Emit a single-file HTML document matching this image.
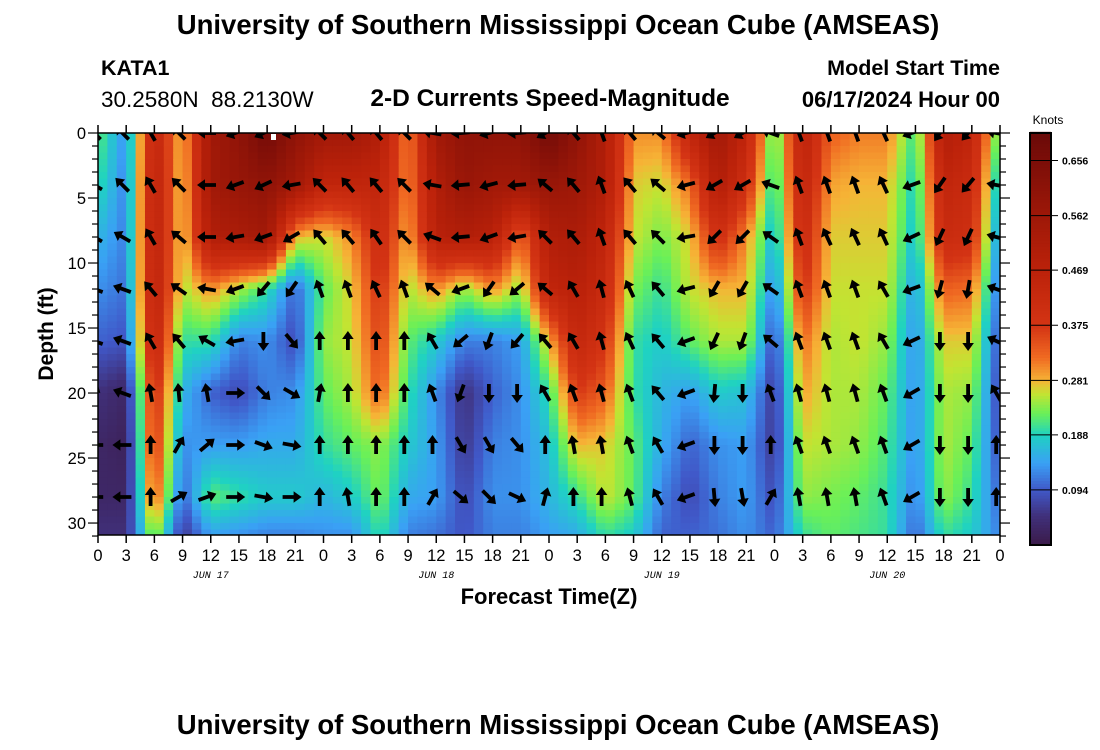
<!DOCTYPE html>
<html><head><meta charset="utf-8"><style>
body{margin:0;background:#fff;}
svg{display:block;font-family:"Liberation Sans",sans-serif;}
</style></head><body>
<svg id="chart" width="1100" height="750" viewBox="0 0 1100 750" xmlns="http://www.w3.org/2000/svg">
<text x="558" y="34" text-anchor="middle" font-size="27.5" font-weight="bold">University of Southern Mississippi Ocean Cube (AMSEAS)</text>
<text x="101" y="75" font-size="21.5" font-weight="bold">KATA1</text>
<text x="101" y="107" font-size="22.5">30.2580N&#160;&#160;88.2130W</text>
<text x="550" y="106" text-anchor="middle" font-size="24.5" font-weight="bold">2-D Currents Speed-Magnitude</text>
<text x="1000" y="75" text-anchor="end" font-size="21.5" font-weight="bold">Model Start Time</text>
<text x="1000" y="107" text-anchor="end" font-size="22" font-weight="bold">06/17/2024 Hour 00</text>
<defs><clipPath id="plotclip"><rect x="98" y="133" width="902" height="402"/></clipPath></defs>
<g id="heat" clip-path="url(#plotclip)"></g>
<g id="arrows" clip-path="url(#plotclip)"></g>
<rect x="271" y="134" width="5" height="6" fill="#fff"/>
<rect x="98" y="133" width="902" height="402" fill="none" stroke="#000" stroke-width="1.5"/>
<g id="axes"></g>
<text transform="translate(53,334) rotate(-90)" text-anchor="middle" font-size="21" font-weight="bold">Depth (ft)</text>
<text x="549" y="604" text-anchor="middle" font-size="22" font-weight="bold">Forecast Time(Z)</text>
<g id="cbar"></g>
<text x="1048" y="124" text-anchor="middle" font-size="12">Knots</text>
<text x="558" y="734" text-anchor="middle" font-size="27.5" font-weight="bold">University of Southern Mississippi Ocean Cube (AMSEAS)</text>
</svg>
<script>
const times = [0,3,6,9,12,15,18,21,24,27,30,33,36,39,42,45,48,51,54,57,60,63,66,69,72,75,78,81,84,87,90,93,96];
const depths = [0,4,8,12,16,20,24,28,31];
const speed = [
[0.22,0.20,0.16,0.13,0.10,0.05,0.03,0.03,0.05],
[0.13,0.12,0.12,0.11,0.09,0.03,0.02,0.03,0.05],
[0.45,0.47,0.47,0.47,0.45,0.40,0.38,0.34,0.25],
[0.27,0.26,0.26,0.25,0.20,0.16,0.13,0.10,0.06],
[0.55,0.55,0.50,0.30,0.20,0.10,0.14,0.22,0.14],
[0.60,0.58,0.52,0.25,0.12,0.08,0.14,0.20,0.13],
[0.68,0.60,0.55,0.20,0.13,0.12,0.15,0.18,0.12],
[0.60,0.55,0.28,0.10,0.08,0.13,0.15,0.18,0.12],
[0.55,0.45,0.26,0.22,0.24,0.22,0.20,0.16,0.13],
[0.55,0.45,0.30,0.27,0.26,0.25,0.22,0.18,0.13],
[0.50,0.45,0.42,0.38,0.36,0.33,0.24,0.23,0.20],
[0.30,0.30,0.28,0.25,0.22,0.20,0.18,0.15,0.12],
[0.55,0.50,0.48,0.30,0.18,0.13,0.14,0.14,0.11],
[0.60,0.58,0.50,0.24,0.12,0.05,0.06,0.08,0.09],
[0.60,0.55,0.48,0.30,0.12,0.10,0.12,0.13,0.12],
[0.60,0.55,0.32,0.24,0.14,0.13,0.13,0.13,0.12],
[0.68,0.58,0.50,0.45,0.28,0.20,0.17,0.16,0.14],
[0.60,0.56,0.52,0.48,0.44,0.37,0.28,0.20,0.15],
[0.50,0.50,0.45,0.42,0.38,0.33,0.27,0.26,0.20],
[0.30,0.27,0.26,0.23,0.20,0.20,0.22,0.22,0.18],
[0.30,0.26,0.23,0.20,0.18,0.16,0.15,0.12,0.10],
[0.45,0.32,0.27,0.26,0.22,0.14,0.10,0.08,0.10],
[0.55,0.50,0.40,0.28,0.25,0.18,0.13,0.12,0.11],
[0.45,0.40,0.30,0.28,0.25,0.17,0.14,0.14,0.13],
[0.20,0.18,0.16,0.12,0.08,0.06,0.06,0.08,0.10],
[0.47,0.45,0.42,0.38,0.32,0.29,0.26,0.24,0.20],
[0.33,0.29,0.27,0.26,0.25,0.25,0.25,0.23,0.22],
[0.31,0.28,0.27,0.26,0.26,0.25,0.24,0.22,0.21],
[0.31,0.28,0.27,0.26,0.24,0.22,0.21,0.20,0.20],
[0.20,0.18,0.17,0.14,0.13,0.13,0.13,0.12,0.10],
[0.50,0.45,0.42,0.33,0.27,0.25,0.25,0.24,0.20],
[0.45,0.42,0.40,0.32,0.27,0.24,0.22,0.20,0.18],
[0.20,0.15,0.12,0.10,0.08,0.07,0.08,0.10,0.12]];
const arrowTimes = [-0.4,2.6,5.6,8.6,11.6,14.6,17.6,20.6,23.6,26.6,29.6,32.6,35.6,38.6,41.6,44.6,47.6,50.6,53.6,56.6,59.6,62.6,65.6,68.6,71.6,74.6,77.6,80.6,83.6,86.6,89.6,92.6,95.6];
const arrowDepths = [0,4,8,12,16,20,24,28];
const dirs = [
[315,315,330,315,270,250,245,260,315,320,320,315,280,265,255,265,240,320,340,320,310,255,240,240,290,340,340,340,335,250,215,220,280],
[300,315,330,315,270,250,245,260,315,320,320,315,280,265,255,265,310,320,340,320,310,255,240,240,290,340,340,340,335,250,215,220,280],
[300,300,330,310,270,260,250,240,320,320,325,315,290,265,250,260,315,320,340,320,315,260,225,225,305,340,335,335,335,245,205,205,285],
[290,290,320,305,280,250,220,215,340,340,335,340,310,250,215,230,310,330,345,335,320,255,210,210,305,340,340,340,330,250,195,190,290],
[290,290,330,320,300,260,180,140,0,0,0,0,330,230,200,220,320,330,345,335,320,250,205,200,310,340,340,340,330,245,180,180,295],
[20,290,350,355,350,90,135,120,10,0,0,0,340,200,180,180,330,340,345,340,320,250,185,180,340,345,345,345,340,240,180,180,330],
[270,270,0,30,50,90,110,100,0,0,0,0,0,150,150,140,0,350,350,340,330,250,180,180,0,340,340,340,340,240,180,180,0],
[270,270,0,60,70,90,100,90,0,350,0,0,30,130,135,115,15,0,0,345,330,250,175,170,30,350,350,350,340,240,180,180,0]];
const cbTicks = [0.094,0.188,0.281,0.375,0.469,0.562,0.656];
const xTickLabels = ['0','3','6','9','12','15','18','21'];
const dayLabels = ['JUN 17','JUN 18','JUN 19','JUN 20'];

const NS='http://www.w3.org/2000/svg';
const X0=98,X1=1000,Y0=133,Y1=535,TMAX=96,DMAX=30.92;
const xs=t=>X0+(X1-X0)*t/TMAX;
const ys=d=>Y0+(Y1-Y0)*d/DMAX;
const VMAX=0.703,CB0=545,CB1=133;
const cs=v=>CB0-(CB0-CB1)*v/VMAX;
const stops=[[0,'#3b1a48'],[0.05,'#40307a'],[0.094,'#4058c8'],[0.14,'#3aa0f5'],[0.188,'#1fd2c2'],[0.225,'#6af058'],[0.258,'#c2e432'],[0.281,'#f6b436'],[0.32,'#f06a22'],[0.375,'#d43414'],[0.469,'#bc220a'],[0.562,'#9e1808'],[0.656,'#7c0e08'],[0.703,'#6a0a08']];
function hex(h){return [1,3,5].map(i=>parseInt(h.substr(i,2),16));}
function color(v){v=Math.max(0,Math.min(VMAX,v));for(let i=1;i<stops.length;i++){if(v<=stops[i][0]){const a=stops[i-1],b=stops[i];const f=(v-a[0])/(b[0]-a[0]);const ca=hex(a[1]),cb=hex(b[1]);return 'rgb('+ca.map((c,k)=>Math.round(c+(cb[k]-c)*f)).join(',')+')';}}return stops[stops.length-1][1];}
function mk(tag,attrs,parent){const e=document.createElementNS(NS,tag);for(const k in attrs)e.setAttribute(k,attrs[k]);parent.appendChild(e);return e;}
function seg(arr,v){for(let i=0;i<arr.length-1;i++){if(v<=arr[i+1])return [i,(v-arr[i])/(arr[i+1]-arr[i])];}return [arr.length-2,1];}
function sample(t,d){const [i,fi]=seg(times,t);const [j,fj]=seg(depths,Math.min(d,31));const a=speed[i][j]*(1-fj)+speed[i][j+1]*fj;const b=speed[i+1][j]*(1-fj)+speed[i+1][j+1]*fj;return a*(1-fi)+b*fi;}

const heat=document.getElementById('heat');
for(let t=0;t<TMAX;t+=1){for(let d=0;d<31;d+=0.5){
 const r=mk('rect',{x:xs(t).toFixed(2),y:ys(d).toFixed(2),width:(xs(1)-xs(0)+0.6).toFixed(2),height:(ys(0.5)-ys(0)+0.6).toFixed(2),fill:color(sample(t+0.5,d+0.25))},heat);
 
 
}}
const arrows=document.getElementById('arrows');
arrowDepths.forEach((d,ri)=>{arrowTimes.forEach((t,ci)=>{
 const p=mk('path',{d:'M-1.9,9 L1.9,9 L1.9,-2 L5.8,-2 L0,-10 L-5.8,-2 L-1.9,-2 Z',fill:'#000',transform:'translate('+xs(t).toFixed(1)+','+ys(d).toFixed(1)+') rotate('+dirs[ri][ci]+')'},arrows);
 
 
});});
const axes=document.getElementById('axes');
for(let t=0;t<=TMAX;t+=3){
 mk('line',{x1:xs(t),y1:Y0,x2:xs(t),y2:Y0-8,stroke:'#000','stroke-width':1.5},axes);
 mk('line',{x1:xs(t),y1:Y1,x2:xs(t),y2:Y1+8,stroke:'#000','stroke-width':1.5},axes);
 const lb=mk('text',{x:xs(t),y:Y1+26,'text-anchor':'middle','font-size':16.5},axes);
 lb.textContent=xTickLabels[(t/3)%8];
 
 
}
dayLabels.forEach((s,i)=>{const e=mk('text',{x:xs(12+24*i),y:Y1+43,'text-anchor':'middle','font-size':10,'font-style':'italic','font-family':'Liberation Mono, monospace'},axes);e.textContent=s;
 
 });
for(let d=0;d<=31;d++){
 const major=d%5===0;
 mk('line',{x1:X0,y1:ys(d),x2:X0-(major?10:6),y2:ys(d),stroke:'#000','stroke-width':1.2},axes);
 mk('line',{x1:X1,y1:ys(d),x2:X1+(major?10:6),y2:ys(d),stroke:'#000','stroke-width':1.2},axes);
 if(major){const e=mk('text',{x:86,y:ys(d)+6,'text-anchor':'end','font-size':16.5},axes);e.textContent=d;
 
 }
}
const cbar=document.getElementById('cbar');
for(let v=0;v<VMAX;v+=0.005){mk('rect',{x:1030,y:cs(v+0.005),width:21,height:(cs(0)-cs(0.005)+0.5),fill:color(v+0.0025)},cbar);}
mk('rect',{x:1030,y:CB1,width:21,height:CB0-CB1,fill:'none',stroke:'#000','stroke-width':2},cbar);
cbTicks.forEach(v=>{mk('line',{x1:1030,y1:cs(v),x2:1058,y2:cs(v),stroke:'#000','stroke-width':1},cbar);
 const e=mk('text',{x:1062,y:cs(v)+4,'font-size':10.5,'font-weight':'bold'},cbar);e.textContent=v.toFixed(3);
 
 });
</script>
</body></html>
